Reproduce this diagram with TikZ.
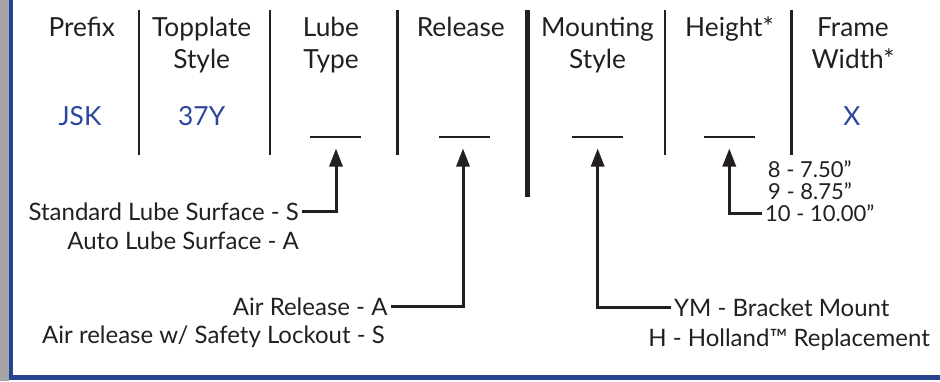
\documentclass[tikz,border=0pt]{standalone}
\usepackage{fontspec}
\setmainfont{Lato}
\usetikzlibrary{arrows.meta}

\definecolor{inkgray}{HTML}{231F20}
\definecolor{codeblue}{HTML}{2B469C}
\definecolor{frameblue}{HTML}{27428F}
\definecolor{bandgray}{HTML}{A5A5A7}

\tikzset{
  header/.style={anchor=base, inner sep=0pt, text=inkgray, font=\fontsize{26.3}{30}\selectfont},
  code/.style={anchor=base, inner sep=0pt, text=codeblue, font=\fontsize{26.3}{30}\selectfont},
  choice/.style={inner xsep=3pt, inner ysep=0pt, text=inkgray, font=\fontsize{24}{28}\selectfont},
  hopt/.style={inner xsep=3pt, inner ysep=0pt, text=inkgray, font=\fontsize{22}{24}\selectfont},
  divider/.style={line width=2.5pt, inkgray},
  blank/.style={line width=2pt, inkgray},
  pointer/.style={line width=3pt, inkgray, -{Triangle[length=18pt,width=13pt]}},
}

\begin{document}
\begin{tikzpicture}[x=1pt, y=-1pt]
    \useasboundingbox (0,0) rectangle (940,381);

    % Frame on the left and at the bottom
    \fill[bandgray] (0,0) rectangle (8.5,381);
    \fill[frameblue] (8.5,0) rectangle (13.3,379.5);
    \fill[frameblue] (8.5,374.5) rectangle (940,379.5);

    % Column headers
    \node[header] (prefix) at (81.8,36.7) {Prefix};
    \node[header] (topplate) at (201.7,36.7) {Topplate};
    \node[header] (topstyle) at (201.7,68.3) {Style};
    \node[header] (lube) at (331,36.7) {Lube};
    \node[header] (lubetype) at (331,68.3) {Type};
    \node[header] (release) at (460.8,36.7) {Release};
    \node[header] (mounting) at (597.5,36.7) {Mounting};
    \node[header] (mountstyle) at (597.5,68.3) {Style};
    \node[header] (height) at (729.5,36.7) {Height*};
    \node[header] (frame) at (853,36.7) {Frame};
    \node[header] (framewidth) at (853,68.3) {Width*};

    % Fixed codes
    \node[code] (jsk) at (80,125) {JSK};
    \node[code] (y37) at (201.7,125) {37Y};
    \node[code] (xcode) at (852,125) {X};

    % Column dividers
    \foreach \x in {139,270,397.7,665,791.7}
        \draw[divider] (\x,10) -- (\x,155);
    \draw[divider, line width=5pt] (527.7,10) -- (527.7,197);

    % Blanks to fill in
    \coordinate (lubeblank) at (335,136.7);
    \coordinate (relblank) at (464.5,136.7);
    \coordinate (mountblank) at (597.5,136.7);
    \coordinate (heightblank) at (729.5,136.7);
    \foreach \b in {lubeblank,relblank,mountblank,heightblank}
        \draw[blank] ([xshift=-25.5pt]\b) -- ([xshift=25.5pt]\b);

    % Arrow tips under the blanks
    \coordinate (lubetip) at (336,148.5);
    \coordinate (reltip) at (463,148.5);
    \coordinate (mounttip) at (597.7,148.5);
    \coordinate (heighttip) at (729.3,148.5);

    % Choices
    \node[choice, anchor=base east] (stdlube) at (302,220) {Standard Lube Surface - S};
    \node[choice, anchor=base east] (autolube) at (302,249.3) {Auto Lube Surface - A};
    \node[choice, anchor=base east] (airrel) at (390.7,315) {Air Release - A};
    \node[choice, anchor=base east] (airlock) at (388,343.3) {Air release w/ Safety Lockout - S};
    \node[choice, anchor=base west] (ymount) at (671,316.7) {YM - Bracket Mount};
    \node[choice, anchor=base] (holland) at (789,346.7) {H - Holland™ Replacement};
    \node[hopt, anchor=base west] (h8) at (764.7,177.3) {8 - 7.50”};
    \node[hopt, anchor=base west] (h9) at (765,199.3) {9 - 8.75”};
    \node[hopt, anchor=base west] (h10) at (762,221.7) {10 - 10.00”};

    % Pointers up to the blanks
    \draw[pointer] (stdlube.east) -| (lubetip);
    \draw[pointer] (airrel.east) -| (reltip);
    \draw[pointer] (ymount.west) -| (mounttip);
    \draw[pointer] (h10.west) -| (heighttip);

\end{tikzpicture}
\end{document}
